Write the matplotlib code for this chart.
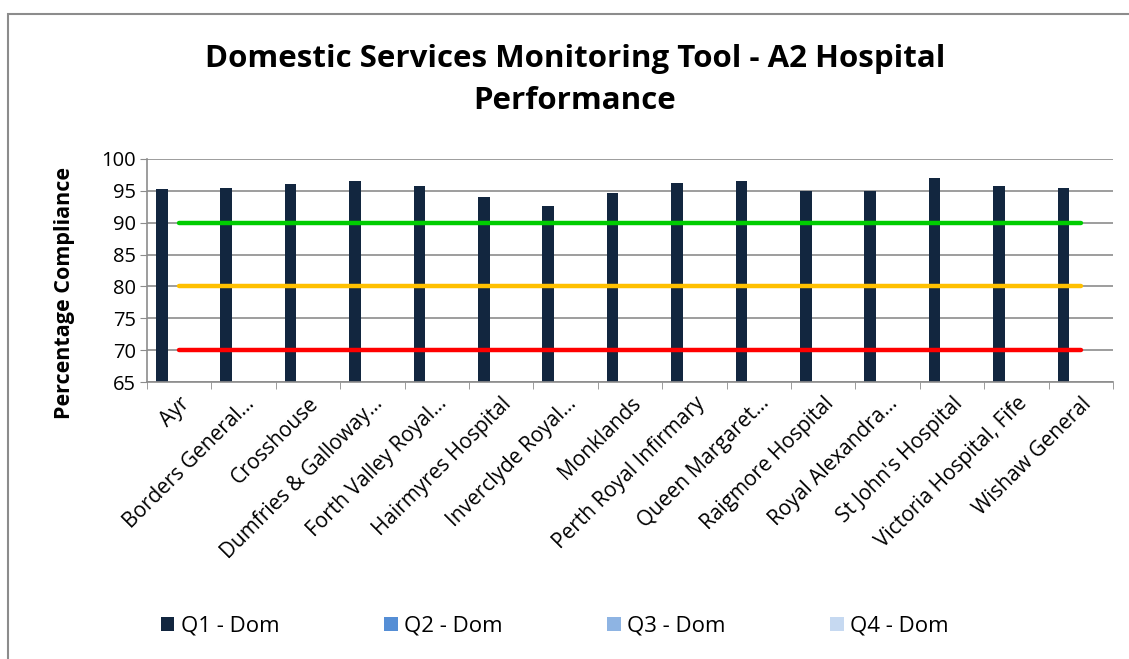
import numpy as np
import matplotlib.pyplot as plt
from matplotlib.patches import Rectangle

plt.rcParams['font.family'] = ['Open Sans', 'DejaVu Sans']

hospitals = ["Ayr", "Borders General...", "Crosshouse", "Dumfries & Galloway...",
             "Forth Valley Royal...", "Hairmyres Hospital", "Inverclyde Royal...",
             "Monklands", "Perth Royal Infirmary", "Queen Margaret...",
             "Raigmore Hospital", "Royal Alexandra...", "St John's Hospital",
             "Victoria Hospital, Fife", "Wishaw General"]
q1 = [95.3, 95.4, 96.0, 96.5, 95.8, 94.0, 92.7, 94.7, 96.3, 96.5, 95.0, 95.0, 97.0, 95.7, 95.4]
q2 = [np.nan] * 15
q3 = [np.nan] * 15
q4 = [np.nan] * 15
series = ["Q1 - Dom", "Q2 - Dom", "Q3 - Dom", "Q4 - Dom"]
colors = ["#12263f", "#558ed5", "#8eb4e3", "#c6d9f1"]
targets = [90, 80, 70]
target_colors = ["#00cc00", "#ffc000", "#ff0000"]

fig = plt.figure(figsize=(11.29, 6.59), dpi=100)
fig.patches.append(Rectangle((8/1129, -0.1), 1.2, (659-14)/659 + 0.1, transform=fig.transFigure,
                             fill=False, edgecolor="#8c8c8c", linewidth=1.5))
ax = fig.add_axes([147/1129, (659-382)/659, 966/1129, 223/659])

x = np.arange(len(hospitals))
w = 0.18
for i, (vals, name, c) in enumerate(zip([q1, q2, q3, q4], series, colors)):
    ax.bar(x + (i - 1.5) * w, vals, w, color=c, label=name, zorder=2)

for t, c in zip(targets, target_colors):
    ax.plot([x[0], x[-1]], [t, t], color=c, linewidth=3.2, solid_capstyle="round", zorder=3)

ax.set_xlim(-0.5, len(hospitals) - 0.5)
ax.set_ylim(65, 100)
ax.set_yticks(range(65, 101, 5))
ax.set_xticks(x)
ax.set_xticklabels(hospitals, rotation=45, ha="right", rotation_mode="anchor", fontsize=15)
ax.set_xticks(np.arange(-0.5, len(hospitals)), minor=True)
ax.tick_params(axis="x", which="major", length=0, pad=8)
ax.tick_params(axis="x", which="minor", length=5, color="#8c8c8c")
ax.tick_params(axis="y", length=5, color="#8c8c8c", labelsize=14.5, pad=3)
ax.grid(axis="y", color="#8c8c8c", linewidth=1.2, zorder=0)
for s in ["top", "right"]:
    ax.spines[s].set_visible(False)
for s in ["left", "bottom"]:
    ax.spines[s].set_color("#8c8c8c")
    ax.spines[s].set_linewidth(1.2)

ax.set_ylabel("Percentage Compliance", fontsize=15.5, fontweight="bold")
ax.yaxis.set_label_coords(-0.075, 0.4)
fig.text(575/1129, 1 - 80/659, "Domestic Services Monitoring Tool - A2 Hospital\nPerformance",
         ha="center", va="center", fontsize=22.5, fontweight="bold", linespacing=1.55)

handles, labels = ax.get_legend_handles_labels()
fig.legend(handles, labels, loc="center", bbox_to_anchor=(555/1129, 1 - 626/659), ncol=4,
           frameon=False, fontsize=16, handlelength=0.6, handleheight=0.6, columnspacing=4.7,
           handletextpad=0.3)

fig.savefig("out.png", dpi=100)
